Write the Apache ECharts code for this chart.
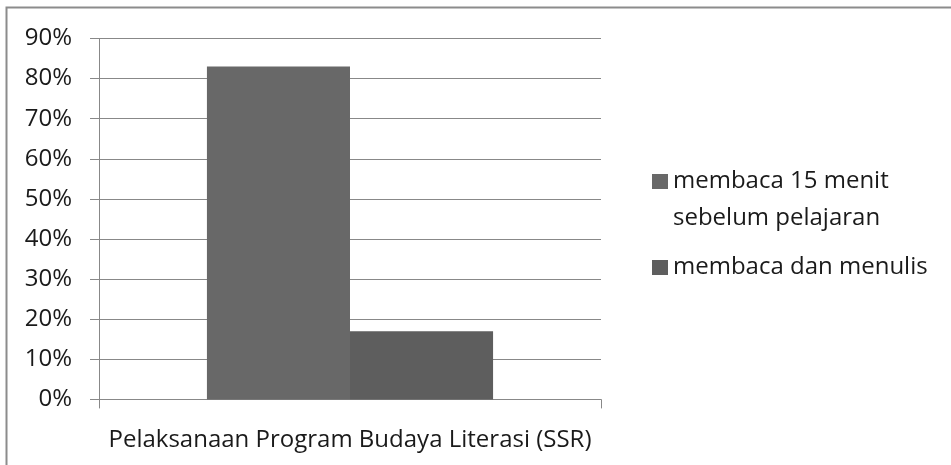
<!DOCTYPE html>
<html>
  <head>
    <meta charset="utf-8" />
    <title>ECharts</title>
    <style type="text/css">
      html,
      body {
        margin: 0;
        width: 951px;
        height: 465px;
        background: #fff;
      }
    </style>
    <script src="https://cdn.jsdelivr.net/npm/echarts@6/dist/echarts.min.js"></script>
  </head>
  <body>
    <div id="chart" style="width: 951px; height: 465px"></div>
    <script type="text/javascript">
      var categories = ["Pelaksanaan Program Budaya Literasi (SSR)"];
      var seriesNames = [
        "membaca 15 menit\nsebelum pelajaran",
        "membaca dan menulis",
      ];
      var readFifteen = [83];
      var readWrite = [17];
      var yTicks = [0, 10, 20, 30, 40, 50, 60, 70, 80, 90];

      var chart = echarts.init(document.getElementById("chart"));
      var font = "'Open Sans', 'DejaVu Sans', sans-serif";
      var lineH = 37;
      var textColor = "#1a1a1a";

      function legendAt(top, name, formatter) {
        return {
          orient: "vertical",
          left: 647,
          top: top,
          itemWidth: 16,
          itemHeight: 15,
          icon: "rect",
          formatter: formatter,
          textStyle: {
            fontFamily: font,
            fontSize: 24,
            color: textColor,
            lineHeight: lineH,
          },
          data: [name],
        };
      }

      var option = {
        animation: false,
        graphic: [
          {
            type: "rect",
            shape: { x: 6.5, y: 7.5, width: 1000, height: 500 },
            style: { fill: "none", stroke: "#8c8c8c", lineWidth: 2 },
          },
        ],
        grid: { left: 99, right: 350, top: 38.5, bottom: 65.6, containLabel: false },
        // leading empty line keeps the square level with the first text line
        legend: [
          legendAt(121, seriesNames[0], function (name) {
            return "\n" + name;
          }),
          legendAt(244, seriesNames[1]),
        ],
        xAxis: {
          type: "category",
          data: categories,
          axisLine: { lineStyle: { color: "#888", width: 1 } },
          axisTick: { show: true, length: 9, lineStyle: { color: "#888" } },
          axisLabel: {
            margin: 29,
            fontFamily: font,
            fontSize: 24,
            color: textColor,
          },
        },
        yAxis: {
          type: "value",
          min: yTicks[0],
          max: yTicks[yTicks.length - 1],
          interval: 10,
          axisLine: { show: true, lineStyle: { color: "#888", width: 1 } },
          axisTick: {
            show: true,
            length: 9,
            lineStyle: { color: "#888" },
          },
          splitLine: { lineStyle: { color: "#888", width: 1 } },
          axisLabel: {
            margin: 27,
            fontFamily: font,
            fontSize: 24,
            color: textColor,
            formatter: "{value}%",
          },
        },
        series: [
          {
            name: seriesNames[0],
            type: "bar",
            data: readFifteen,
            barGap: "0%",
            barCategoryGap: "43%",
            itemStyle: { color: "#686868" },
          },
          {
            name: seriesNames[1],
            type: "bar",
            data: readWrite,
            itemStyle: { color: "#5e5e5e" },
          },
        ],
      };
      chart.setOption(option);
    </script>
  </body>
</html>
